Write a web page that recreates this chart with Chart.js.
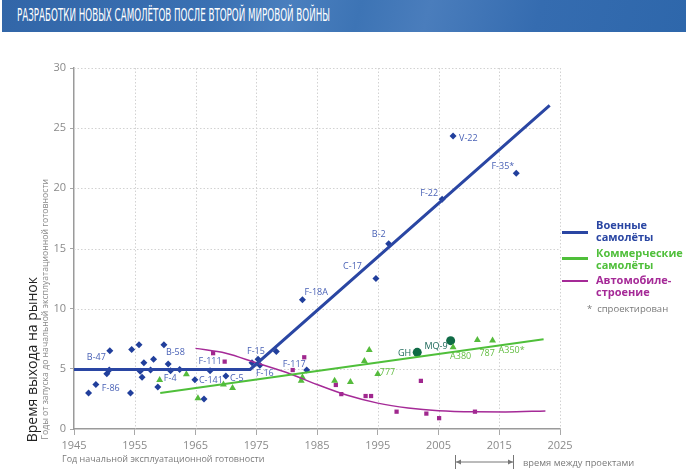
<!DOCTYPE html>
<html>
<head>
<meta charset="utf-8">
<script src="https://cdn.jsdelivr.net/npm/chart.js@4.4.1/dist/chart.umd.min.js"></script>
<style>
  html, body { margin: 0; padding: 0; background: #fff; }
  #wrap { position: relative; width: 686px; height: 473px; overflow: hidden; font-family: 'Open Sans', sans-serif; }
  #chart { position: absolute; left: 0; top: 0; }
  .banner {
    position: absolute; left: 2px; top: 0; width: 684px; height: 32px;
    background: linear-gradient(105deg, #3266a8 0%, #3a70b2 30%, #4a7fbe 42%, #3d74b5 52%, #4a7dbc 62%, #356cb0 78%, #2e67ab 100%);
  }
  .banner span {
    position: absolute; left: 15px; top: 5px; color: #fff; white-space: nowrap;
    font-family: 'Liberation Sans Narrow', 'DejaVu Sans Condensed', sans-serif; font-size: 17px;
    transform-origin: left center;
  }
  .ytitle {
    position: absolute; writing-mode: vertical-rl; transform: rotate(180deg); white-space: nowrap;
  }
  .note { position: absolute; white-space: nowrap; color: #7a7a7a; font-size: 9px; }
  .leg { position: absolute; left: 596px; font-size: 11px; font-weight: bold; line-height: 12px; }
  .legline { position: absolute; left: 562px; width: 26px; }
</style>
</head>
<body>
<div id="wrap">
  <canvas id="chart" width="686" height="473"></canvas>
  <div class="banner"><span id="title">РАЗРАБОТКИ НОВЫХ САМОЛЁТОВ ПОСЛЕ ВТОРОЙ МИРОВОЙ ВОЙНЫ</span></div>

  <div class="ytitle" style="left:24px; bottom:31px; font-size:14px; line-height:16px; color:#222;">Время выхода на рынок</div>
  <div class="ytitle" style="left:40px; bottom:33px; font-size:8.7px; line-height:10px; color:#888;">Годы от запуска до начальной эксплуатационной готовности</div>

  <div class="note" style="left:62px; top:452px;">Год начальной эксплуатационной готовности</div>
  <div class="note" style="left:523px; top:456px; font-size:9.3px;">время между проектами</div>
  <svg style="position:absolute; left:450px; top:452px;" width="70" height="20">
    <line x1="5.5" y1="3" x2="5.5" y2="17" stroke="#777" stroke-width="1"/>
    <line x1="63.5" y1="3" x2="63.5" y2="17" stroke="#777" stroke-width="1"/>
    <line x1="6" y1="10" x2="63" y2="10" stroke="#777" stroke-width="1"/>
    <path d="M6 10 L11 7.5 L11 12.5 Z M63 10 L58 7.5 L58 12.5 Z" fill="#777"/>
  </svg>

  <div class="legline" style="top:230.5px; height:3px; background:#2a46a3;"></div>
  <div class="leg" style="top:219px; color:#2a46a3;">Военные<br>самолёты</div>
  <div class="legline" style="top:257px; height:2.5px; background:#4fbf3a;"></div>
  <div class="leg" style="top:247px; color:#4fbf3a;">Коммерческие<br>самолёты</div>
  <div class="legline" style="top:280px; height:2px; background:#a52a97;"></div>
  <div class="leg" style="top:274px; color:#a52a97;">Автомобиле-<br>строение</div>
  <div class="note" style="left:587px; top:302px; font-size:9.5px;">*&nbsp;&nbsp;спроектирован</div>
</div>

<script>
// military aircraft: year of service, years to market
const militaryYears = [1947.4, 1948.6, 1950.4, 1950.8, 1950.9, 1954.3, 1954.5, 1955.7, 1955.9, 1956.2,
  1956.5, 1957.6, 1958.1, 1958.8, 1959.8, 1960.5, 1960.9, 1962.4, 1964.9, 1966.4,
  1967.4, 1970.0, 1974.3, 1975.3, 1975.6, 1978.3, 1982.6, 1983.3, 1994.7, 1996.8,
  2005.6, 2007.4, 2017.8];
const militaryValues = [3.0, 3.7, 4.6, 4.9, 6.5, 3.0, 6.6, 7.0, 4.8, 4.3,
  5.5, 4.9, 5.8, 3.5, 7.0, 5.4, 4.85, 4.95, 4.1, 2.5,
  4.85, 4.4, 5.5, 5.8, 5.3, 6.45, 10.75, 4.9, 12.5, 15.4,
  19.1, 24.35, 21.25];
const militaryNames = ['', 'F-86', '', '', 'B-47', '', '', '', '', '',
  '', '', '', 'F-4', 'B-58', '', '', '', 'C-141', '',
  'F-111', 'C-5', 'F-15', '', 'F-16', '', 'F-18A', 'F-117', 'C-17', 'B-2',
  'F-22', 'V-22', 'F-35*'];

// commercial aircraft
const commercialYears = [1959.1, 1963.5, 1965.4, 1969.6, 1971.1, 1982.4, 1982.6, 1987.9, 1990.5, 1992.8,
  1993.6, 1995.0, 2007.4, 2011.4, 2013.9];
const commercialValues = [4.07, 4.55, 2.55, 3.7, 3.4, 4.0, 4.3, 4.0, 3.9, 5.65,
  6.57, 4.57, 6.8, 7.4, 7.35];
const commercialNames = ['', '', '', '', '', '', '', '', '', '',
  '', '777', 'A380', '787', 'A350*'];

// automotive
const autoYears = [1967.9, 1969.8, 1981.0, 1982.9, 1988.1, 1989.0, 1993.0, 1993.9, 1998.1, 2002.1,
  2003.0, 2005.1, 2011.0];
const autoValues = [6.3, 5.6, 4.9, 5.96, 3.66, 2.9, 2.74, 2.74, 1.44, 4.0,
  1.28, 0.9, 1.44];

// unmanned
const uavYears = [2001.5, 2007.0];
const uavValues = [6.37, 7.34];
const uavNames = ['GH', 'MQ-9'];

// trend lines
const militaryTrendYears = [1945, 1974, 2023.3];
const militaryTrendValues = [4.95, 4.95, 26.9];
const commercialTrendYears = [1959.2, 2022.3];
const commercialTrendValues = [3.0, 7.45];
const autoTrendYears = [1965, 1970, 1975, 1980, 1985, 1990, 1995, 2000, 2005, 2011, 2016, 2022.6];
const autoTrendValues = [6.7, 6.3, 5.5, 4.7, 3.7, 2.8, 2.15, 1.75, 1.52, 1.43, 1.42, 1.5];

// row of service-year marks under the axis
const serviceYears = [1947.4, 1948.5, 1949.8, 1950.4, 1950.9, 1954.3, 1954.8, 1955.4, 1955.9, 1956.5,
  1957.0, 1957.6, 1958.1, 1958.7, 1959.2, 1959.8, 1960.3, 1960.9, 1962.7, 1964.3,
  1964.9, 1966.1, 1967.2, 1969.8, 1974.4, 1975.2, 1976.3, 1978.2, 1982.4, 1982.9,
  1994.8, 1997.0, 2005.5, 2007.4, 2017.9];

const xTicks = [1945, 1955, 1965, 1975, 1985, 1995, 2005, 2015, 2025];
const yTicks = [0, 5, 10, 15, 20, 25, 30];

// fit banner title to its width in the picture
const title = document.getElementById('title');
title.style.transform = 'scaleX(' + (313 / title.getBoundingClientRect().width) + ')';

const pts = (xs, ys) => xs.map((x, i) => ({ x: x, y: ys[i] }));

// label placement: [dx, dy, align]
const labelPos = {
  'F-86': [6, 4, 'left'], 'B-47': [-4, 7, 'right'], 'F-4': [6, -8, 'left'], 'B-58': [2, 8, 'left'],
  'C-141': [4, 1, 'left'], 'F-111': [0, -9, 'center'], 'C-5': [4, 2, 'left'], 'F-15': [4, -11, 'center'],
  'F-16': [-4, 8, 'left'], 'F-18A': [2, -7, 'left'], 'F-117': [-1, -6, 'right'], 'C-17': [-14, -12, 'right'],
  'B-2': [-3, -9, 'right'], 'F-22': [-4, -6, 'right'], 'V-22': [6, 2, 'left'], 'F-35*': [-2, -7, 'right'],
  '777': [2, -2, 'left'], 'A380': [-3, 9, 'left'], '787': [2, 13, 'left'], 'A350*': [6, 10, 'left'],
  'GH': [-6, 1, 'right'], 'MQ-9': [-3, 6, 'right']
};

const dotGrid = {
  id: 'dotGrid',
  beforeDatasetsDraw(chart) {
    const { ctx, chartArea: a, scales: { x, y } } = chart;
    ctx.save();
    ctx.strokeStyle = '#d2d2d2';
    ctx.lineWidth = 1;
    ctx.setLineDash([1.5, 2]);
    yTicks.slice(1).forEach(v => {
      const py = Math.round(y.getPixelForValue(v)) + 0.5;
      ctx.beginPath(); ctx.moveTo(a.left, py); ctx.lineTo(a.right, py); ctx.stroke();
    });
    xTicks.slice(1).forEach(v => {
      const px = Math.round(x.getPixelForValue(v)) + 0.5;
      ctx.beginPath(); ctx.moveTo(px, a.top); ctx.lineTo(px, a.bottom); ctx.stroke();
    });
    ctx.restore();
  }
};

const pointLabels = {
  id: 'pointLabels',
  afterDatasetsDraw(chart) {
    const ctx = chart.ctx;
    ctx.save();
    ctx.font = '9px "Open Sans", sans-serif';
    ctx.textBaseline = 'middle';
    chart.data.datasets.forEach((ds, di) => {
      if (!ds.names) return;
      const meta = chart.getDatasetMeta(di);
      ds.names.forEach((name, i) => {
        if (!name) return;
        const p = meta.data[i];
        const [dx, dy, align] = labelPos[name];
        ctx.fillStyle = ds.labelColor;
        ctx.textAlign = align;
        ctx.fillText(name, p.x + dx, p.y + dy);
      });
    });
    ctx.restore();
  }
};

const tickFont = { family: 'Open Sans', size: 11 };

new Chart(document.getElementById('chart'), {
  type: 'scatter',
  data: {
    datasets: [
      {
        data: pts(militaryTrendYears, militaryTrendValues), showLine: true,
        borderColor: '#2a46a3', borderWidth: 3, pointRadius: 0
      },
      {
        data: pts(commercialTrendYears, commercialTrendValues), showLine: true,
        borderColor: '#4fbf3a', borderWidth: 2, pointRadius: 0
      },
      {
        data: pts(autoTrendYears, autoTrendValues), showLine: true, cubicInterpolationMode: 'monotone',
        borderColor: '#a52a97', borderWidth: 1.5, pointRadius: 0
      },
      {
        data: pts(militaryYears, militaryValues), names: militaryNames, labelColor: '#4a62b6',
        pointStyle: 'rectRot', pointRadius: 3.5, backgroundColor: '#213f9c', borderWidth: 0
      },
      {
        data: pts(commercialYears, commercialValues), names: commercialNames, labelColor: '#62bd40',
        pointStyle: 'triangle', pointRadius: 4, backgroundColor: '#55bb3c', borderWidth: 0
      },
      {
        data: pts(autoYears, autoValues),
        pointStyle: 'rect', pointRadius: 3, backgroundColor: '#a0278e', borderWidth: 0
      },
      {
        data: pts(uavYears, uavValues), names: uavNames, labelColor: '#1f6a5b',
        pointStyle: 'circle', pointRadius: 4.5, backgroundColor: '#0f6b46', borderWidth: 0
      },
      {
        data: serviceYears.map(x => ({ x: x, y: -0.42 })), clip: false,
        pointStyle: 'rectRot', pointRadius: 3, backgroundColor: '#8e98a8', borderWidth: 0
      }
    ]
  },
  options: {
    responsive: false,
    animation: false,
    layout: { padding: { left: 0, right: 126, top: 68, bottom: 0 } },
    plugins: { legend: { display: false }, tooltip: { enabled: false } },
    scales: {
      x: {
        type: 'linear', min: 1945, max: 2025,
        afterBuildTicks: s => { s.ticks = xTicks.map(v => ({ value: v })); },
        afterFit: s => { s.height = 44; },
        ticks: { callback: v => String(v), color: '#8a8a8a', font: tickFont, padding: 4, maxRotation: 0, autoSkip: false },
        grid: { drawOnChartArea: false, drawTicks: true, tickLength: 6, color: '#a8a8a8' },
        border: { color: '#9a9a9a', width: 1.5 }
      },
      y: {
        min: 0, max: 30,
        afterBuildTicks: s => { s.ticks = yTicks.map(v => ({ value: v })); },
        afterFit: s => { s.width = 74; },
        ticks: { color: '#8a8a8a', font: tickFont, padding: 4 },
        grid: { drawOnChartArea: false, drawTicks: true, tickLength: 4, color: '#a8a8a8' },
        border: { color: '#9a9a9a', width: 1.5 }
      }
    }
  },
  plugins: [dotGrid, pointLabels]
});
</script>
</body>
</html>
